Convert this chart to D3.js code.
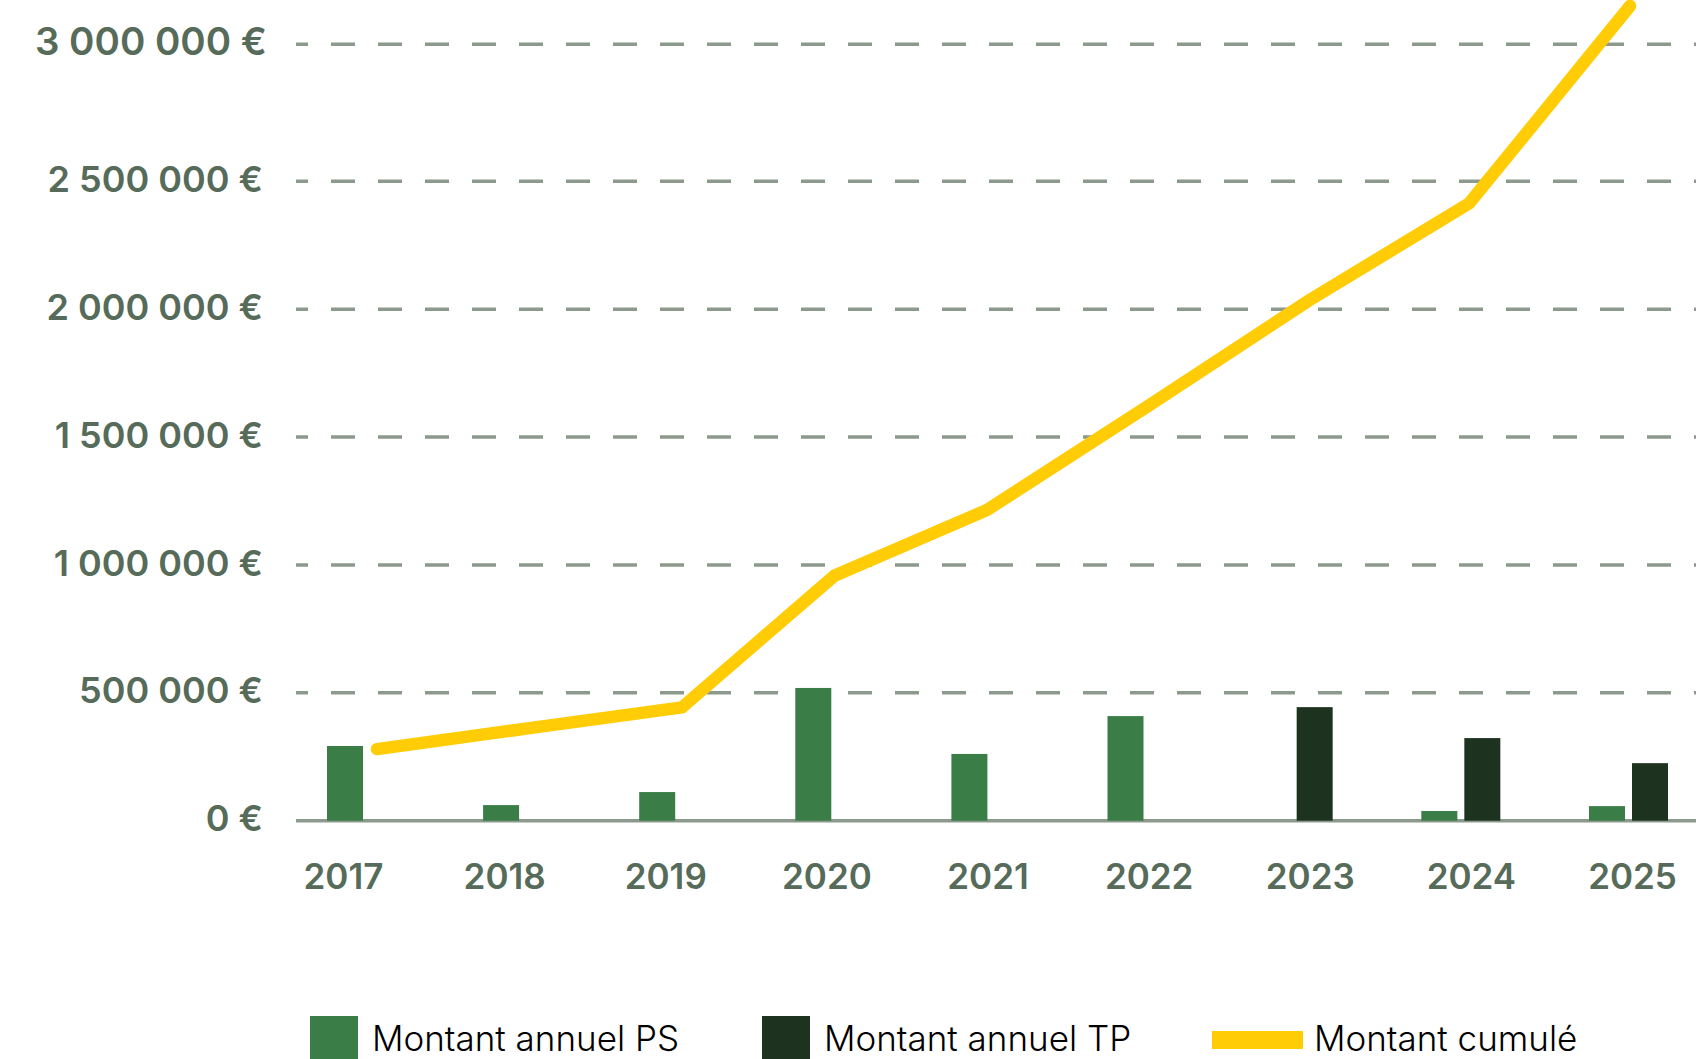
<!DOCTYPE html>
<html>
<head>
<meta charset="utf-8">
<script src="https://cdn.jsdelivr.net/npm/d3@7"></script>
<style>
  html, body { margin: 0; padding: 0; background: #ffffff; overflow: hidden; }
  svg { display: block; }
</style>
</head>
<body>
<svg id="chart" width="1696" height="1059"></svg>
<script>
// ---------------- DATA ----------------
const years = [2017, 2018, 2019, 2020, 2021, 2022, 2023, 2024, 2025];
const montantPS = [292000, 61000, 112000, 519000, 261000, 409000, 0, 38000, 57000];
const montantTP = [null, null, null, null, null, null, 444000, 323000, 225000];
const montantCumule = [280000, 362000, 443000, 958000, 1215000, 1620000, 2033000, 2414000, 3140000];
const yTicks = [0, 500000, 1000000, 1500000, 2000000, 2500000, 3000000];
const legendLabels = ["Montant annuel PS", "Montant annuel TP", "Montant cumulé"];

// ---------------- LAYOUT / STYLE ----------------
const W = 1696, H = 1059;
const colPS = "#3a7d46", colTP = "#1e331f", colLine = "#ffcc05";
const colGrid = "#8c998d", colLabel = "#566b59";
const plotLeft = 296, plotRight = 1696;
const barW = 36, barGap = 7;

const svg = d3.select("#chart");

// y scale (the reference's top interval is slightly taller)
const y = d3.scaleLinear()
  .domain([0, 2500000, 3000000])
  .range([820.7, 181.3, 44.3]);

// x scales
const xLabel = d3.scalePoint().domain(years).range([343, 1632]);
const xBar = d3.scaleLinear().domain([2017, 2022, 2025]).range([345, 1125.5, 1628.5]);
const xLine = d3.scaleLinear().domain([2017, 2021, 2025]).range([377, 987, 1630]);

const frLocale = d3.formatLocale({ decimal: ",", thousands: "\u00a0", grouping: [3], currency: ["", "\u00a0€"] });
const fmt = frLocale.format(",d");

// gridlines (dashed), baseline solid
svg.append("g").selectAll("line")
  .data(yTicks.filter(v => v > 0))
  .join("line")
  .attr("x1", plotLeft).attr("x2", plotRight)
  .attr("y1", d => y(d)).attr("y2", d => y(d))
  .attr("stroke", colGrid)
  .attr("stroke-width", 3.5)
  .attr("stroke-dasharray", "24 23")
  .attr("stroke-dashoffset", 12);

svg.append("line")
  .attr("x1", plotLeft).attr("x2", plotRight)
  .attr("y1", y(0)).attr("y2", y(0))
  .attr("stroke", colGrid)
  .attr("stroke-width", 3.6);

// y axis labels
const yMax = d3.max(yTicks);
const yAxis = svg.append("g")
  .attr("transform", `translate(${plotLeft},0)`)
  .call(d3.axisLeft(y).tickValues(yTicks).tickSize(0).tickPadding(33)
    .tickFormat(d => fmt(d) + "\u00a0€"));
yAxis.select(".domain").remove();
yAxis.selectAll("text")
  .attr("dy", "0.28em")
  .attr("fill", colLabel)
  .style("font-family", "Inter, 'Open Sans', sans-serif")
  .style("font-weight", 600)
  .style("font-size", "36px");
// the top label is drawn a touch larger in the reference
yAxis.selectAll(".tick").filter(d => d === yMax).select("text")
  .attr("x", -29)
  .attr("dy", "0.27em")
  .style("font-size", "38.5px");

// x axis labels
const xAxis = svg.append("g")
  .attr("transform", `translate(0,${y(0)})`)
  .call(d3.axisBottom(xLabel).tickSize(0).tickPadding(43.5));
xAxis.select(".domain").remove();
xAxis.selectAll("text")
  .attr("fill", colLabel)
  .style("font-family", "Inter, 'Open Sans', sans-serif")
  .style("font-weight", 600)
  .style("font-size", "35px");

// bars
const barData = [];
years.forEach((yr, i) => {
  const hasTP = montantTP[i] !== null;
  const c = xBar(yr);
  if (!hasTP) {
    barData.push({ x: c - barW / 2, v: montantPS[i], color: colPS });
  } else {
    const off = (barW + barGap) / 2;
    if (montantPS[i] > 0) barData.push({ x: c - off - barW / 2, v: montantPS[i], color: colPS });
    barData.push({ x: c + off - barW / 2, v: montantTP[i], color: colTP });
  }
});
svg.append("g").selectAll("rect")
  .data(barData)
  .join("rect")
  .attr("x", d => d.x)
  .attr("width", barW)
  .attr("y", d => y(d.v))
  .attr("height", d => y(0) - y(d.v))
  .attr("fill", d => d.color);

// cumulative line
const lineData = years.map((yr, i) => ({ yr, v: montantCumule[i] }));
svg.append("path")
  .datum(lineData)
  .attr("d", d3.line().x(d => xLine(d.yr)).y(d => y(d.v)))
  .attr("fill", "none")
  .attr("stroke", colLine)
  .attr("stroke-width", 12.5)
  .attr("stroke-linecap", "round")
  .attr("stroke-linejoin", "miter");

// legend
const legendItems = [
  { label: legendLabels[0], color: colPS, x: 310, w: 48, h: 48, y: 1016, tx: 14 },
  { label: legendLabels[1], color: colTP, x: 762, w: 48, h: 48, y: 1016, tx: 14 },
  { label: legendLabels[2], color: colLine, x: 1212, w: 91, h: 18, y: 1031, tx: 11 }
];
const lg = svg.append("g").selectAll("g").data(legendItems).join("g");
lg.append("rect")
  .attr("x", d => d.x).attr("y", d => d.y)
  .attr("width", d => d.w).attr("height", d => d.h)
  .attr("fill", d => d.color);
lg.append("text")
  .attr("x", d => d.x + d.w + d.tx)
  .attr("y", 1051)
  .attr("fill", "#000")
  .style("font-family", "Inter, 'Open Sans', sans-serif")
  .style("font-weight", 300)
  .style("font-size", "35px")
  .text(d => d.label);
</script>
</body>
</html>
